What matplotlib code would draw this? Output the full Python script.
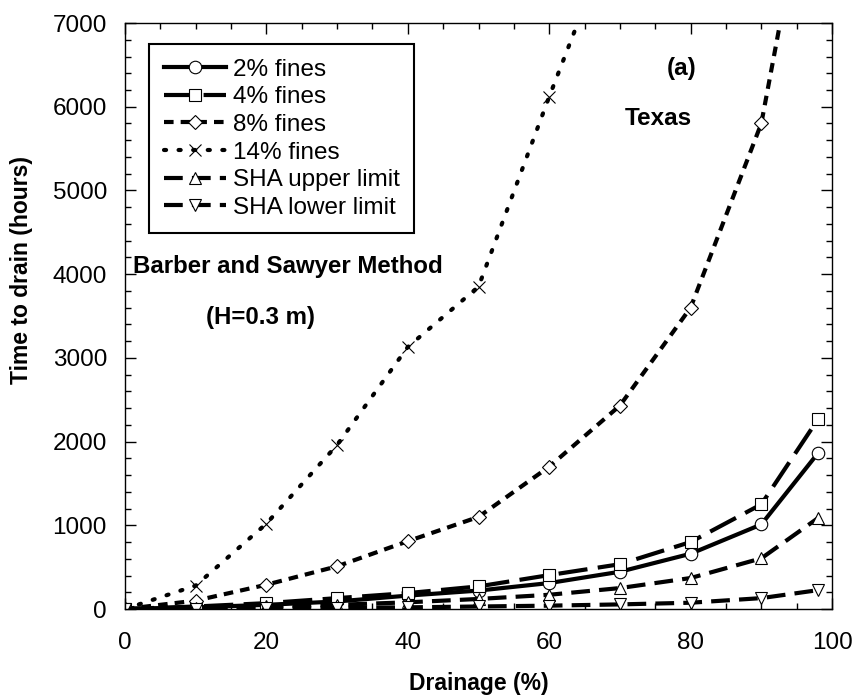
import matplotlib
matplotlib.use("Agg")
import matplotlib.pyplot as plt
from matplotlib.ticker import MultipleLocator

plt.rcParams['font.family'] = ['Liberation Sans', 'DejaVu Sans']

drainage = [0, 10, 20, 30, 40, 50, 60, 70, 80, 90, 98]
fines_2 = [0, 20, 50, 90, 160, 220, 310, 445, 660, 1010, 1860]
fines_4 = [0, 30, 70, 130, 190, 270, 405, 535, 800, 1250, 2265]
fines_8 = [0, 100, 290, 510, 810, 1100, 1700, 2430, 3600, 5800, 9400]
drainage_14 = [0, 10, 20, 30, 40, 50, 60, 70]
fines_14 = [0, 280, 1020, 1960, 3130, 3850, 6120, 8300]
sha_upper = [0, 10, 30, 50, 80, 120, 170, 250, 370, 605, 1085]
sha_lower = [0, 5, 10, 15, 20, 30, 40, 55, 75, 130, 225]

fig = plt.figure(figsize=(8.55, 6.98), dpi=100)
ax = fig.add_axes([0.1462, 0.1275, 0.8269, 0.8395])

mk = dict(markersize=9, markerfacecolor='white', markeredgecolor='black',
          markeredgewidth=0.8, color='black', lw=3)

ax.plot(drainage, fines_2, '-', marker='o', label='2% fines', **mk)
ax.plot(drainage, fines_4, marker='s', dashes=(7, 2.5), label='4% fines', **mk)
ax.plot(drainage, fines_8, marker='D', dashes=(2.3, 1.7), label='8% fines',
        **{**mk, 'markersize': 7.5})
ax.plot(drainage_14, fines_14, marker='x', dashes=(0.5, 3), dash_capstyle='round',
        label='14% fines', **mk)
ax.plot(drainage, sha_upper, marker='^', dashes=(4.5, 2.2), label='SHA upper limit', **mk)
ax.plot(drainage, sha_lower, marker='v', dashes=(4.5, 2.2), label='SHA lower limit', **mk)

ax.set_xlim(0, 100)
ax.set_ylim(0, 7000)
ax.xaxis.set_major_locator(MultipleLocator(20))
ax.xaxis.set_minor_locator(MultipleLocator(5))
ax.yaxis.set_major_locator(MultipleLocator(1000))
ax.yaxis.set_minor_locator(MultipleLocator(200))
ax.tick_params(which='both', direction='in', top=True, right=True, labelsize=17.5)
ax.tick_params(axis='x', pad=16.5)
ax.tick_params(axis='y', pad=13)
ax.tick_params(which='major', length=8, width=1)
ax.tick_params(which='minor', length=4, width=1)
for s in ax.spines.values():
    s.set_linewidth(1)

ax.set_xlabel('Drainage (%)', fontsize=16.5, fontweight='bold', labelpad=13)
ax.set_ylabel('Time to drain (hours)', fontsize=16.5, fontweight='bold')
ax.yaxis.set_label_coords(-0.13, 0.578)

ax.text(78.8, 6460, '(a)', fontsize=17.5, fontweight='bold', ha='center', va='center')
ax.text(75.4, 5865, 'Texas', fontsize=17.5, fontweight='bold', ha='center', va='center')
ax.text(1.1, 4088, 'Barber and Sawyer Method', fontsize=17.3, fontweight='bold',
        ha='left', va='center')
ax.text(19.1, 3480, '(H=0.3 m)', fontsize=17.3, fontweight='bold', ha='center', va='center')

leg = ax.legend(loc='upper left', bbox_to_anchor=(0.034, 0.964), fontsize=17.5,
                handlelength=2.55, fancybox=False, framealpha=1, edgecolor='black',
                borderpad=0.6, labelspacing=0.23, handletextpad=0.3, borderaxespad=0)
leg.get_frame().set_linewidth(1.5)

fig.savefig('out.png', dpi=100)
